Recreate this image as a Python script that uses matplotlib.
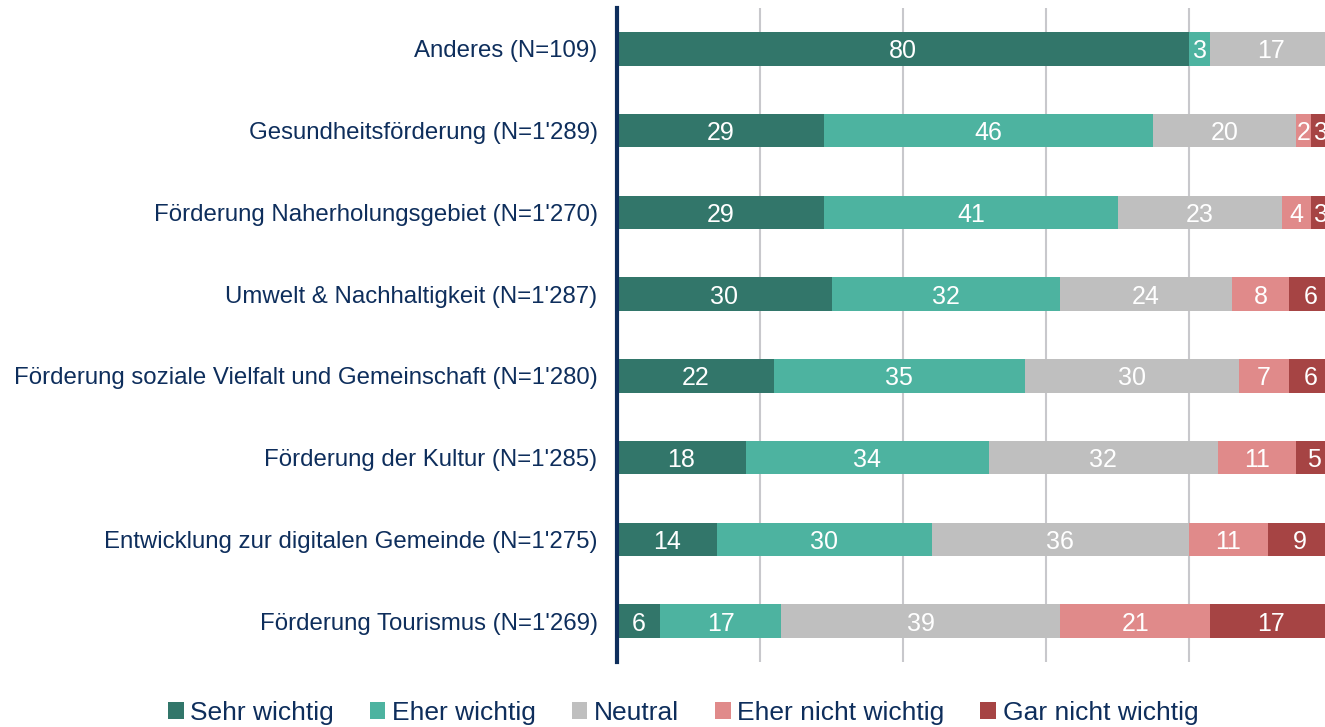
import matplotlib
matplotlib.use("Agg")
import matplotlib.pyplot as plt
from matplotlib.patches import Patch

plt.rcParams['font.family'] = ['Liberation Sans', 'DejaVu Sans']

categories = [
    "Anderes (N=109)",
    "Gesundheitsförderung (N=1'289)",
    "Förderung Naherholungsgebiet (N=1'270)",
    "Umwelt & Nachhaltigkeit (N=1'287)",
    "Förderung soziale Vielfalt und Gemeinschaft (N=1'280)",
    "Förderung der Kultur (N=1'285)",
    "Entwicklung zur digitalen Gemeinde (N=1'275)",
    "Förderung Tourismus (N=1'269)",
]
series_names = ["Sehr wichtig", "Eher wichtig", "Neutral", "Eher nicht wichtig", "Gar nicht wichtig"]
sehr_wichtig = [80, 29, 29, 30, 22, 18, 14, 6]
eher_wichtig = [3, 46, 41, 32, 35, 34, 30, 17]
neutral = [17, 20, 23, 24, 30, 32, 36, 39]
eher_nicht_wichtig = [0, 2, 4, 8, 7, 11, 11, 21]
gar_nicht_wichtig = [0, 3, 3, 6, 6, 5, 9, 17]
colors = ["#32766A", "#4DB3A0", "#BFBFBF", "#E08A8A", "#A64444"]
navy = "#0E2E5C"

W, H = 1325, 727
fig = plt.figure(figsize=(W / 100, H / 100), dpi=100)
x0, x1 = 617, 1332
y_top, y_bot = 8, 662
ax = fig.add_axes([x0 / W, 1 - y_bot / H, (x1 - x0) / W, (y_bot - y_top) / H])

data = [sehr_wichtig, eher_wichtig, neutral, eher_nicht_wichtig, gar_nicht_wichtig]
ypos = list(range(len(categories)))
left = [0] * len(categories)
for name, vals, c in zip(series_names, data, colors):
    bars = ax.barh(ypos, vals, left=left, height=0.41, color=c, label=name, zorder=2)
    for b, v, l in zip(bars, vals, left):
        if v > 0:
            ax.text(l + v / 2, b.get_y() + b.get_height() / 2, str(v), ha='center',
                    va='center_baseline', color='white', fontsize=18, zorder=3)
    left = [a + b for a, b in zip(left, vals)]

ax.set_xlim(0, 100)
ax.set_ylim(len(categories) - 0.5, -0.5)
ax.set_yticks(ypos)
ax.set_yticklabels(categories, fontsize=17.3, color=navy)
ax.tick_params(axis='y', length=0, pad=14)
ax.set_xticks([20, 40, 60, 80, 100])
ax.tick_params(axis='x', length=0, labelbottom=False)
ax.grid(axis='x', color='#C8C8CC', linewidth=1.5, zorder=0)
ax.set_axisbelow(True)
for s in ['top', 'right', 'bottom']:
    ax.spines[s].set_visible(False)
ax.spines['left'].set_color(navy)
ax.spines['left'].set_linewidth(3)
ax.spines['left'].set_zorder(4)

handles = [Patch(facecolor=c, label=n) for n, c in zip(series_names, colors)]
fig.legend(handles=handles, loc='center', bbox_to_anchor=(683 / W, 1 - 713 / H), ncol=5,
           frameon=False, fontsize=19, labelcolor=navy, handlelength=0.6, handleheight=0.6,
           handletextpad=0.25, columnspacing=1.35, borderpad=0)

fig.savefig("out.png", dpi=100)
